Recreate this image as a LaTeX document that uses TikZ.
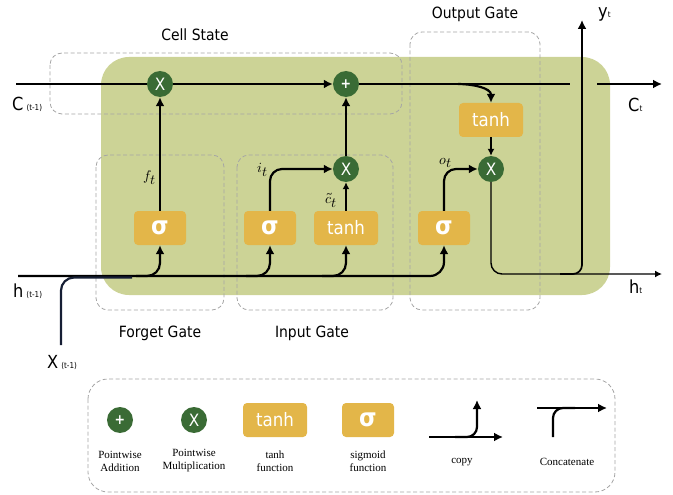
\documentclass[tikz,border=0pt]{standalone}
\usepackage{fontspec}
\usepackage{unicode-math}
\setmainfont{DejaVu Sans}[FakeStretch=0.9]
\setmathfont{Latin Modern Math}
\newfontfamily\legendfont{Liberation Serif}
\usetikzlibrary{arrows.meta}

\definecolor{cellgreen}{RGB}{204,211,150}
\definecolor{opgreen}{RGB}{58,107,53}
\definecolor{actgold}{RGB}{227,182,73}
\definecolor{gatedash}{RGB}{165,165,165}
\definecolor{inputnavy}{RGB}{22,30,52}

\newcommand{\smalltag}[1]{{\fontsize{8}{8}\selectfont #1}}

\begin{document}
\begin{tikzpicture}[x=1pt,y=-1pt,
	>={Latex[length=9pt,width=9pt]},
	wire/.style={line width=2.2pt},
	thinwire/.style={line width=1.4pt,>={Latex[length=7pt,width=7pt]}},
	op/.style={circle,fill=opgreen,text=white,minimum size=26pt,inner sep=0pt,font=\fontsize{17}{17}\selectfont},
	plusop/.style={op,font=\fontsize{14}{14}\selectfont\bfseries},
	act/.style={fill=actgold,text=white,rounded corners=4pt,minimum height=34pt,inner sep=0pt,font=\fontsize{18.5}{18.5}\selectfont},
	sig/.style={act,minimum width=52pt,font=\fontsize{25}{25}\selectfont\bfseries},
	th/.style={act,minimum width=64pt},
	gatebox/.style={draw=gatedash,line width=0.8pt,dash pattern=on 4pt off 2.5pt,rounded corners=12pt},
	title/.style={font=\fontsize{15.5}{16}\selectfont},
	varlabel/.style={font=\fontsize{14}{14}\selectfont},
	biglabel/.style={inner sep=0pt,anchor=base west,font=\fontsize{18}{18}\selectfont},
	legtext/.style={align=center,font=\legendfont\fontsize{11}{13}\selectfont}]
	\useasboundingbox (0,0) rectangle (673,495);

	% cell body and the dashed gate regions
	\fill[cellgreen,rounded corners=28pt] (101,57) rectangle (610,295);
	\foreach \xa/\ya/\xb/\yb in {50/53/402/114,96/155/224/310,237/155/393/310,410/32/540/310}
		{ \draw[gatebox] (\xa,\ya) rectangle (\xb,\yb); }

	\node[title] (celltitle) at (195,35) {Cell State};
	\node[title] (outtitle) at (475,14) {Output Gate};
	\node[title] (fgtitle) at (160,333) {Forget Gate};
	\node[title] (igtitle) at (312,333) {Input Gate};

	% operations
	\node[op] (fx) at (160,84) {X};
	\node[plusop] (cplus) at (346,84) {+};
	\node[op] (ix) at (346,169) {X};
	\node[op] (ox) at (491,169) {X};
	\node[sig] (fsig) at (160,228) {σ};
	\node[sig] (isig) at (270,228) {σ};
	\node[th] (itanh) at (346,228) {tanh};
	\node[sig] (osig) at (444,228) {σ};
	\node[th] (otanh) at (491,120) {tanh};

	\coordinate (cin) at (16,84);
	\coordinate (cgapl) at (570,84);
	\coordinate (cgapr) at (597,84);
	\coordinate (cout) at (662,84);
	\coordinate (cbr) at (458,84);
	\coordinate (hin) at (18,276);
	\coordinate (xin) at (61,345);
	\coordinate (xjoin) at (132,277.5);
	\coordinate (fbr) at (136,276);
	\coordinate (ibr) at (246,276);
	\coordinate (tbr) at (322,276);
	\coordinate (hout) at (662,274);
	\coordinate (ybr) at (560,274);
	\coordinate (yout) at (582,20);

	% cell state line
	\draw[wire] (cin) -- (fx);
	\draw[wire,->] (fx) -- (cplus);
	\draw[wire] (cplus) -- (cgapl);
	\draw[wire,->] (cgapr) -- (cout);
	\draw[wire,->] (cbr) to[out=0,in=90] (otanh.north);

	% hidden state and input
	\draw[wire,->,rounded corners=14pt] (hin) -| (osig.south);
	\draw[wire,draw=inputnavy,rounded corners=13pt] (xin) |- (xjoin);
	\draw[wire,->,rounded corners=13pt] (fbr) -| (fsig.south);
	\draw[wire,->,rounded corners=13pt] (ibr) -| (isig.south);
	\draw[wire,->,rounded corners=13pt] (tbr) -| (itanh.south);

	% gates
	\draw[wire,->] (fsig) -- (fx);
	\draw[wire,->,rounded corners=12pt] (isig.north) |- (ix.west);
	\draw[thinwire,->] (itanh) -- (ix);
	\draw[wire,->] (ix) -- (cplus);
	\draw[wire,->,rounded corners=12pt] (osig.north) |- (ox.west);
	\draw[thinwire,->] (otanh) -- (ox);
	\draw[thinwire,->,rounded corners=11pt] (ox.south) |- (hout);
	\draw[wire,line width=1.7pt,->,rounded corners=9pt] (ybr) -| (yout);

	\node[varlabel] (ftlab) at (150,178) {$f_{\textstyle t}$};
	\node[varlabel] (itlab) at (263,170) {$i_{\textstyle t}$};
	\node[varlabel] (ctlab) at (331,200) {$\tilde{c}_{\textstyle t}$};
	\node[varlabel] (otlab) at (446,163) {$o_{\textstyle t}$};

	\node[biglabel] (cprevlab) at (12,111) {C\,\smalltag{(t-1)}};
	\node[biglabel] (hprevlab) at (13,297) {h\,\smalltag{(t-1)}};
	\node[biglabel] (xprevlab) at (47,368) {X\,\smalltag{(t-1)}};
	\node[biglabel] (ctoutlab) at (628,112) {C\smalltag{t}};
	\node[biglabel] (htoutlab) at (629,293) {h\smalltag{t}};
	\node[biglabel] (ytoutlab) at (598,18) {y\smalltag{t}};

	% legend
	\draw[gatebox,rounded corners=20pt] (88,379) rectangle (615,492);
	\node[plusop] (legadd) at (120,420) {+};
	\node[op] (legmul) at (194,420) {X};
	\node[th] (legtanh) at (275,420) {tanh};
	\node[sig] (legsig) at (368,420) {σ};
	\node[legtext] (legaddtxt) at (120,461) {Pointwise\\Addition};
	\node[legtext] (legmultxt) at (194,461) {Pointwise\\Multiplication};
	\node[legtext] (legtanhtxt) at (275,461) {tanh\\function};
	\node[legtext] (legsigtxt) at (368,461) {sigmoid\\function};
	\node[legtext] (legcopytxt) at (462,462) {copy};
	\node[legtext] (legcattxt) at (567,462) {Concatenate};

	\coordinate (cpa) at (429,437);
	\coordinate (cpb) at (503,437);
	\coordinate (cpc) at (455,437);
	\coordinate (cpd) at (477,400);
	\draw[wire,->] (cpa) -- (cpb);
	\draw[wire,->,rounded corners=10pt] (cpc) -| (cpd);

	\coordinate (cca) at (537,408);
	\coordinate (ccb) at (607,408);
	\coordinate (ccc) at (553,437);
	\coordinate (ccd) at (575,408);
	\draw[wire,->] (cca) -- (ccb);
	\draw[wire,rounded corners=10pt] (ccc) |- (ccd);
\end{tikzpicture}
\end{document}
